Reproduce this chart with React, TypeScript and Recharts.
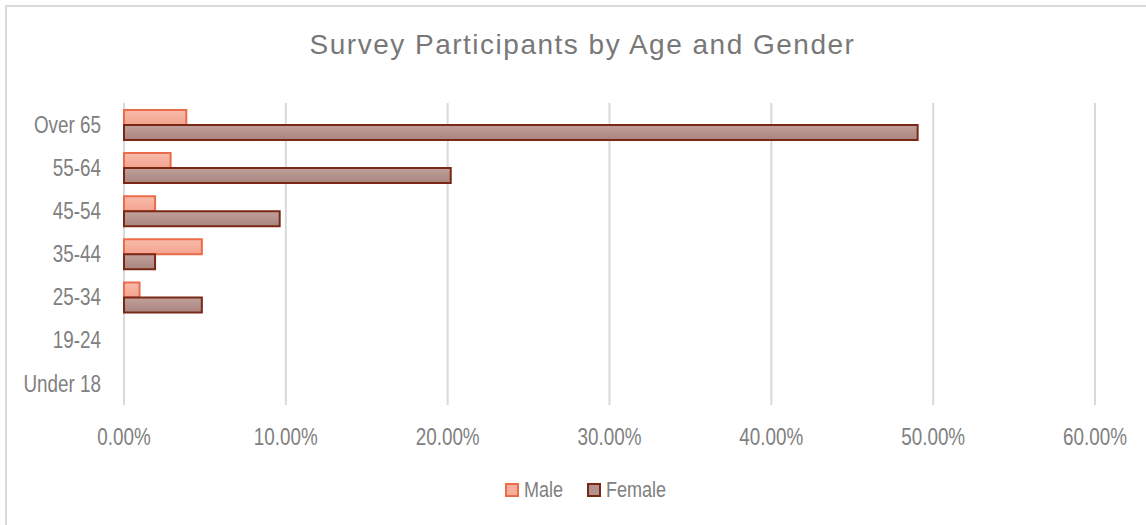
import { BarChart, Bar, XAxis, YAxis, CartesianGrid } from "recharts";

const ageGroups = ["Over 65", "55-64", "45-54", "35-44", "25-34", "19-24", "Under 18"];
const malePct = [3.85, 2.88, 1.92, 4.81, 0.96, 0, 0];
const femalePct = [49.04, 20.19, 9.62, 1.92, 4.81, 0, 0];
const xTicks = [0, 10, 20, 30, 40, 50, 60];

const data = ageGroups.map((age, i) => ({
  age,
  male: malePct[i],
  female: femalePct[i],
}));

const FONT = '"Liberation Sans", Arial, sans-serif';
const TEXT = "#808080";
const NARROW = 0.82;

const MALE_STROKE = "#ea6c4b";
const FEMALE_STROKE = "#7a2816";

// narrow-looking text: Liberation Sans squeezed horizontally
const NarrowTick = (props: any) => {
  const { x, y, payload, anchor, dy, formatter } = props;
  const label = formatter ? formatter(payload.value) : payload.value;
  return (
    <g transform={`translate(${x},${y})`}>
      <text
        transform={`scale(${NARROW},1)`}
        textAnchor={anchor}
        dy={dy}
        fill={TEXT}
        fontSize={23}
        fontFamily={FONT}
      >
        {label}
      </text>
    </g>
  );
};

const pct = (v: number) => `${v.toFixed(2)}%`;

export default function App() {
  return (
    <div style={{ position: "absolute", left: 0, top: 0, width: 1146, height: 525, background: "#fff", fontFamily: FONT }}>
      <div
        style={{
          position: "absolute",
          left: 5,
          top: 5,
          right: 0,
          bottom: 0,
          borderTop: "2px solid #d9d9d9",
          borderLeft: "2px solid #d9d9d9",
        }}
      />
      <div
        style={{
          position: "absolute",
          left: 0,
          width: 1165,
          top: 29,
          textAlign: "center",
          fontSize: 28,
          letterSpacing: 1.5,
          color: "#787878",
          lineHeight: "32px",
        }}
      >
        Survey Participants by Age and Gender
      </div>
      <BarChart
        width={1146}
        height={525}
        data={data}
        layout="vertical"
        margin={{ top: 103, right: 51, bottom: 60, left: 0 }}
        barCategoryGap="16%"
        barGap={0}
        style={{ position: "absolute", left: 0, top: 0 }}
      >
        <defs>
          <linearGradient id="maleFill" x1="0" y1="0" x2="0" y2="1">
            <stop offset="0%" stopColor="#f8bcac" />
            <stop offset="100%" stopColor="#f4a28e" />
          </linearGradient>
          <linearGradient id="femaleFill" x1="0" y1="0" x2="0" y2="1">
            <stop offset="0%" stopColor="#c1a19c" />
            <stop offset="100%" stopColor="#a9847e" />
          </linearGradient>
        </defs>
        <CartesianGrid horizontal={false} stroke="#d9d9d9" strokeWidth={2} />
        <XAxis
          type="number"
          domain={[0, 60]}
          ticks={xTicks}
          axisLine={false}
          tickLine={false}
          tickSize={0}
          tickMargin={24}
          height={60}
          tick={<NarrowTick anchor="middle" dy="0.71em" formatter={pct} />}
        />
        <YAxis
          type="category"
          dataKey="age"
          width={124}
          axisLine={false}
          tickLine={false}
          tickSize={0}
          tickMargin={23}
          interval={0}
          tick={<NarrowTick anchor="end" dy="0.355em" />}
        />
        <Bar dataKey="male" name="Male" fill="url(#maleFill)" stroke={MALE_STROKE} strokeWidth={2} isAnimationActive={false} />
        <Bar dataKey="female" name="Female" fill="url(#femaleFill)" stroke={FEMALE_STROKE} strokeWidth={2} isAnimationActive={false} />
      </BarChart>
      <svg width={1146} height={40} style={{ position: "absolute", left: 0, top: 470 }}>
        <rect x={506} y={14} width={12} height={12} fill="#f6ae9c" stroke={MALE_STROKE} strokeWidth={2} />
        <g transform="translate(524,27)">
          <text transform={`scale(${NARROW},1)`} fill={TEXT} fontSize={22} fontFamily={FONT}>Male</text>
        </g>
        <rect x={588} y={14} width={12} height={12} fill="#b3928d" stroke={FEMALE_STROKE} strokeWidth={2} />
        <g transform="translate(606,27)">
          <text transform={`scale(${NARROW},1)`} fill={TEXT} fontSize={22} fontFamily={FONT}>Female</text>
        </g>
      </svg>
    </div>
  );
}
